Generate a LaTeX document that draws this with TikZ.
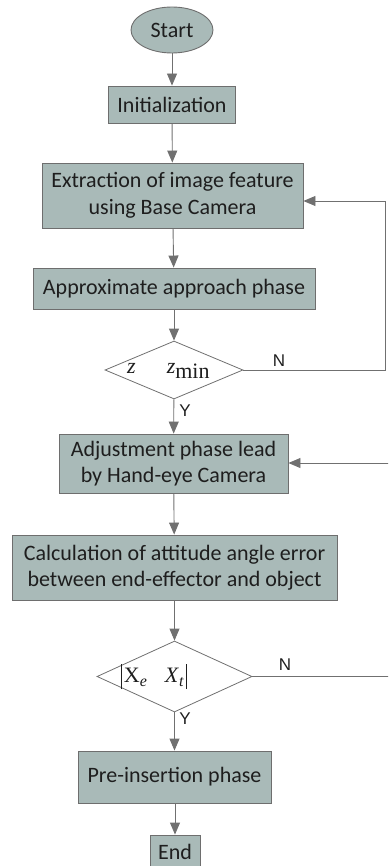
\documentclass[tikz,border=0pt]{standalone}
\usepackage{fontspec}
\setmainfont{Carlito}
\setsansfont{Liberation Sans}
\newfontfamily\serifmath{Liberation Serif}
\usetikzlibrary{shapes.geometric,arrows.meta}
\definecolor{boxfill}{HTML}{A9BAB8}
\definecolor{boxline}{HTML}{6E6E6E}
\definecolor{lineclr}{HTML}{707070}
\definecolor{txt}{HTML}{1E1E1E}
\begin{document}
\begin{tikzpicture}[x=1pt,y=-1pt,
  font=\fontsize{22}{26.5}\selectfont, text=txt,
  procbox/.style={draw=boxline, fill=boxfill, rectangle, line width=0.9pt, inner sep=0pt, align=center},
  decbox/.style={draw=lineclr, diamond, line width=0.8pt, inner sep=0pt, fill=white},
  flow/.style={draw=lineclr, line width=0.9pt, -{Triangle[length=12pt,width=10pt]}},
  plain/.style={draw=lineclr, line width=0.9pt},
  lbl/.style={font=\fontsize{17}{20}\selectfont\sffamily, text=txt, inner sep=0pt}]
\useasboundingbox (0,0) rectangle (388,866);
\clip (0,0) rectangle (388,866);
% nodes
\node[procbox, ellipse, minimum width=82, minimum height=46] (start) at (172,30) {Start};
\node[procbox, minimum width=127, minimum height=37] (init) at (172,104.5) {Initialization};
\node[procbox, minimum width=261, minimum height=65] (extr) at (172.5,195.5) {Extraction of image feature\\using Base Camera};
\node[procbox, minimum width=282, minimum height=41] (appr) at (174,288.5) {Approximate approach phase};
\node[decbox, minimum width=138, minimum height=58] (dec1) at (174,370) {};
\node[font=\serifmath\fontsize{22}{24}\selectfont, inner sep=0pt, anchor=base west] (dec1t) at (127,373) {\textit{z}\hspace{31pt}\textit{z}\raisebox{-5pt}{min}};
\node[procbox, minimum width=229, minimum height=59] (adj) at (173.5,463.5) {Adjustment phase lead\\by Hand-eye Camera};
\node[procbox, minimum width=325, minimum height=65] (calc) at (174.5,567.5) {Calculation of attitude angle error\\between end-effector and object};
\node[decbox, minimum width=155, minimum height=71] (dec2) at (174.5,676.5) {};
\node[font=\serifmath\fontsize{22}{24}\selectfont, inner sep=0pt, anchor=base west] (dec2t) at (121,682) {\rule[-7pt]{0.7pt}{25pt}\kern2pt X\raisebox{-4pt}{\textit{\fontsize{16}{16}\selectfont e}}\hspace{18pt}\textit{X}\raisebox{-4pt}{\textit{\fontsize{16}{16}\selectfont t}}\kern2pt\rule[-7pt]{0.7pt}{25pt}};
\node[procbox, minimum width=193, minimum height=52] (pre) at (174.5,777) {Pre-insertion phase};
\node[procbox, minimum width=50, minimum height=34] (endn) at (175,852) {End};
% labels
\node[lbl] (n1) at (279,361) {N};
\node[lbl] (y1) at (185,411) {Y};
\node[lbl] (n2) at (285,665) {N};
\node[lbl] (y2) at (185,719) {Y};
% coordinates for loops
\coordinate (r1a) at (385,370);
\coordinate (r1b) at (385,201);
\coordinate (r2a) at (400,676.5);
\coordinate (r2b) at (400,463);
% connectors
\draw[flow] (start) -- (init);
\draw[flow] (init) -- (extr);
\draw[flow] (extr) -- (appr);
\draw[flow] (appr) -- (dec1);
\draw[flow] (dec1) -- (adj);
\draw[flow] (adj) -- (calc);
\draw[flow] (calc) -- (dec2);
\draw[flow] (dec2) -- (pre);
\draw[flow] (pre.south -| endn) -- (endn);
\draw[flow] (dec1.east) -- (r1a) -- (r1b) -- (r1b -| extr.east);
\draw[plain] (dec2.east) -- (r2a);
\draw[flow] (r2b) -- (r2b -| adj.east);
\end{tikzpicture}
\end{document}
